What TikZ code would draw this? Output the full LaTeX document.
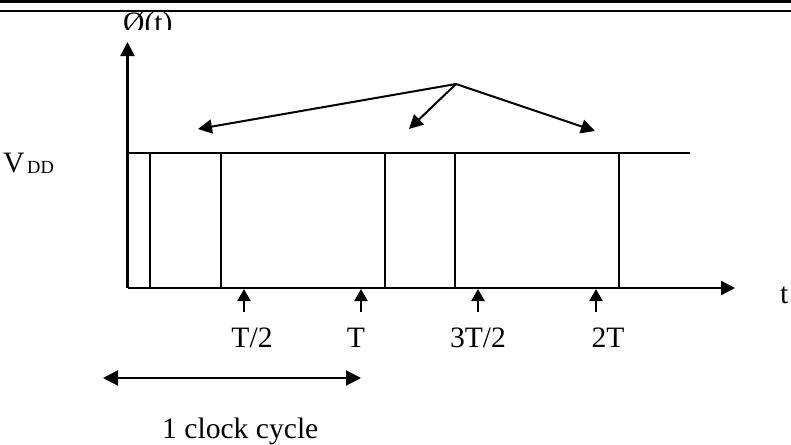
\documentclass[tikz,border=0pt]{standalone}
\usepackage{fontspec}
\setmainfont{Liberation Serif}
\usetikzlibrary{arrows.meta}
\begin{document}
\begin{tikzpicture}[x=1pt,y=-1pt,
  lbl/.style={font=\fontsize{29.6}{34}\selectfont, inner sep=0pt},
  sub/.style={font=\fontsize{18.5}{22}\selectfont, inner sep=0pt},
  axis/.style={line width=2.3pt, -{Triangle[length=14pt,width=14pt]}},
  pulse/.style={line width=2pt},
  arr/.style={line width=2pt, -{Triangle[length=14pt,width=14pt]}},
  tick/.style={line width=2.2pt, -{Triangle[length=12pt,width=13pt]}},
  span/.style={line width=2pt, {Triangle[length=15pt,width=15pt]}-{Triangle[length=15pt,width=15pt]}}
]
\useasboundingbox (0,0) rectangle (791,444);
% top rules
\fill (0,0) rectangle (791,3.5);
\fill (0,9.8) rectangle (791,12);
% title, clipped by the page frame
\begin{scope}
  \clip (0,12) rectangle (791,30);
  \node[lbl, anchor=base west] (phi) at (123,33) {Ø(t)};
\end{scope}
% axes
\coordinate (O) at (127.5,288);
\coordinate (ytip) at (127.5,42);
\coordinate (xtip) at (735,288);
\draw[axis] (O) -- (ytip);
\draw[axis] (O) -- (xtip);
\node[lbl, anchor=base west] (tlab) at (780,303) {t};
% VDD level
\coordinate (vddL) at (127,153);
\coordinate (vddR) at (690,153);
\draw[pulse] (vddL) -- (vddR);
\node[lbl, anchor=base west] (vdd) at (3,172) {V};
\node[sub, anchor=base west] (vddsub) at (27,173) {DD};
% pulse edges
\foreach \x [count=\i] in {150,221,385,455,619} {
  \coordinate (pt\i) at (\x,153);
  \coordinate (pb\i) at (\x,288);
  \draw[pulse] (pt\i) -- (pb\i);
}
% diagonal arrows
\coordinate (src) at (456,84);
\coordinate (d1) at (198,129);
\coordinate (d2) at (409,129);
\coordinate (d3) at (595,131);
\draw[arr] (src) -- (d1);
\draw[arr] (src) -- (d2);
\draw[arr] (src) -- (d3);
% tick arrows and labels
\foreach \x/\name in {244/a,361/b,478/c,596/d} {
  \coordinate (tk\name b) at (\x,312);
  \coordinate (tk\name a) at (\x,289);
  \draw[tick] (tk\name b) -- (tk\name a);
}
\node[lbl, anchor=base] (lT2) at (252,347) {T/2};
\node[lbl, anchor=base] (lT) at (356,347) {T};
\node[lbl, anchor=base] (l3T2) at (478,347) {3T/2};
\node[lbl, anchor=base] (l2T) at (608,347) {2T};
% clock cycle span
\coordinate (cL) at (103,378);
\coordinate (cR) at (361,378);
\draw[span] (cL) -- (cR);
\node[lbl, anchor=base west] (cyc) at (162,438) {1 clock cycle};
\end{tikzpicture}
\end{document}
